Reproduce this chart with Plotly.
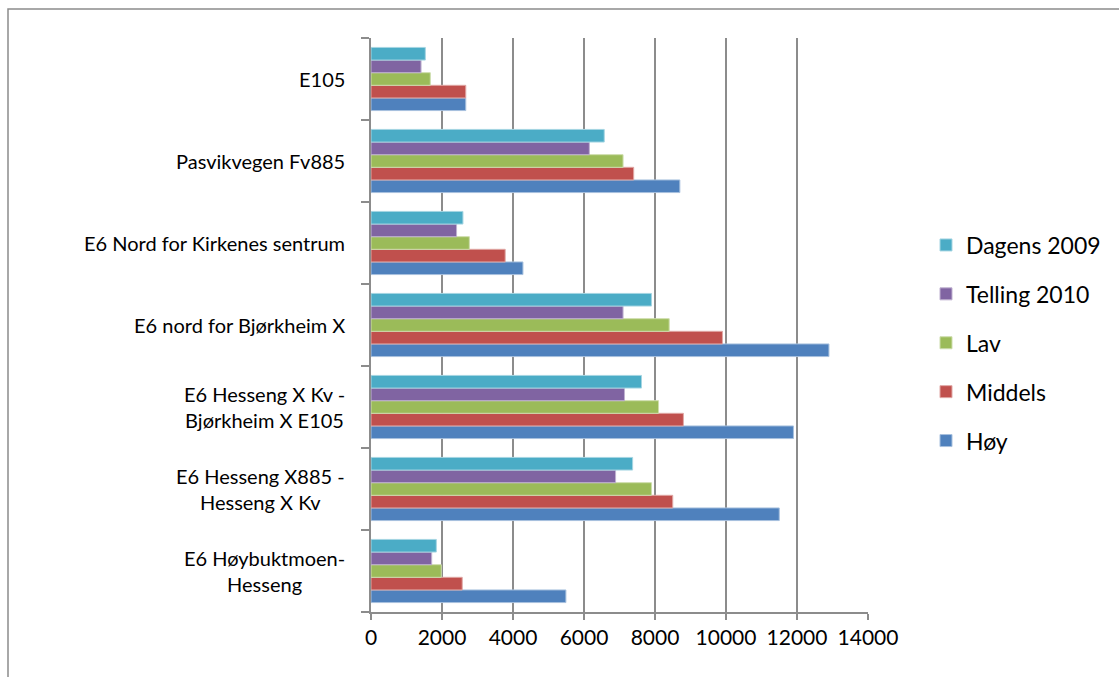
import plotly.graph_objects as go

categories = [
    "E6 Høybuktmoen-<br>Hesseng",
    "E6 Hesseng X885 -<br>Hesseng X Kv",
    "E6 Hesseng X Kv -<br>Bjørkheim X E105",
    "E6 nord for Bjørkheim X",
    "E6 Nord for Kirkenes sentrum",
    "Pasvikvegen Fv885",
    "E105",
]
hoy = [5490, 11500, 11900, 12900, 4280, 8700, 2670]
middels = [2570, 8500, 8800, 9900, 3780, 7400, 2670]
lav = [1980, 7900, 8100, 8400, 2770, 7100, 1670]
telling_2010 = [1710, 6890, 7140, 7100, 2410, 6150, 1410]
dagens_2009 = [1840, 7370, 7620, 7900, 2590, 6570, 1530]

series = [
    ("Høy", hoy, "#4F81BD", "#A7C0DE"),
    ("Middels", middels, "#C0504D", "#E0A8A6"),
    ("Lav", lav, "#9BBB59", "#CDDDAC"),
    ("Telling 2010", telling_2010, "#8064A2", "#BFB1D0"),
    ("Dagens 2009", dagens_2009, "#4BACC6", "#A5D5E2"),
]

FONT = "Lato, Carlito, Calibri, sans-serif"
W, H = 1119, 677
L, R, T, B = 371, 251, 38, 65
pw, ph = W - L - R, H - T - B

fig = go.Figure()
n = len(series)
for i, (name, vals, col, edge) in enumerate(series):
    fig.add_trace(go.Bar(
        y=categories, x=vals, name=name, orientation="h",
        marker=dict(color=col, line=dict(color=edge, width=1)),
        legendgroup=name, legendrank=n - i,
    ))

# category labels, centred multi-line like the original
for c in categories:
    fig.add_annotation(
        x=(347 - L) / pw, xref="paper", y=c, yref="y",
        text=c, showarrow=False, xanchor="right", align="center",
        font=dict(family=FONT, size=20, color="#000000"),
    )

# outer chart border
fig.add_shape(type="rect", xref="paper", yref="paper",
              x0=(8 - L) / pw, x1=(1130 - L) / pw,
              y0=(H - B - 690) / ph, y1=(H - B - 9) / ph,
              line=dict(color="#8C8C8C", width=1.5), layer="below")

fig.update_layout(
    width=W, height=H,
    margin=dict(l=L, r=R, t=T, b=B, autoexpand=False),
    barmode="group", bargap=0.23, bargroupgap=0,
    plot_bgcolor="white", paper_bgcolor="white",
    font=dict(family=FONT, size=20, color="#000000"),
    showlegend=True,
    legend=dict(
        x=(926 - L) / pw, xanchor="left", y=0.5 - 18 / ph, yanchor="middle",
        traceorder="grouped", tracegroupgap=16,
        font=dict(family=FONT, size=23, color="#000000"),
        itemwidth=30,
    ),
    xaxis=dict(
        range=[0, 14000], dtick=2000, tick0=0, tickformat="d",
        showgrid=True, gridcolor="#8C8C8C", gridwidth=2,
        showline=True, linecolor="#8C8C8C", linewidth=2,
        ticks="outside", ticklen=6, tickcolor="#8C8C8C", tickwidth=2,
        zeroline=False, tickfont=dict(family=FONT, size=21),
    ),
    yaxis=dict(
        type="category", categoryorder="array", categoryarray=categories,
        showticklabels=False,
        showline=True, linecolor="#8C8C8C", linewidth=2,
        ticks="outside", ticklen=8, tickcolor="#8C8C8C", tickwidth=2,
        tickson="boundaries", showgrid=False,
    ),
)

fig.write_html("out.html")
